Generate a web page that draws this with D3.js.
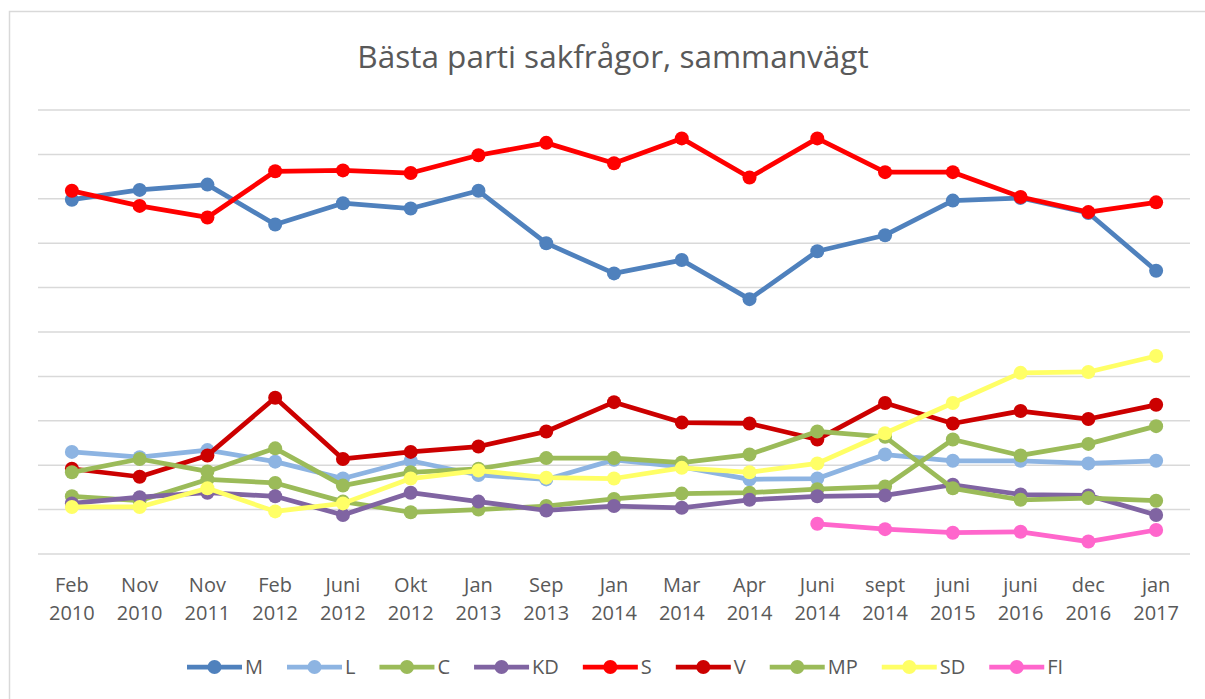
<!DOCTYPE html>
<html>
<head>
<meta charset="utf-8">
<script src="https://cdn.jsdelivr.net/npm/d3@7"></script>
<style>
  body { margin: 0; background: #fff; }
  svg { display: block; font-family: 'Open Sans', sans-serif; }
  .grid line { stroke: #d9d9d9; stroke-width: 1.5; }
  .xlabel, .legend text { fill: #595959; }
</style>
</head>
<body>
<svg id="chart" width="1205" height="699"></svg>
<script>
const categories = [
  ['Feb', '2010'], ['Nov', '2010'], ['Nov', '2011'], ['Feb', '2012'], ['Juni', '2012'],
  ['Okt', '2012'], ['Jan', '2013'], ['Sep', '2013'], ['Jan', '2014'], ['Mar', '2014'],
  ['Apr', '2014'], ['Juni', '2014'], ['sept', '2014'], ['juni', '2015'], ['juni', '2016'],
  ['dec', '2016'], ['jan', '2017']
]
const seriesNames = ['M', 'L', 'C', 'KD', 'S', 'V', 'MP', 'SD', 'FI']
const seriesColors = ['#4f81bd', '#8db4e2', '#9bbb59', '#8064a2', '#ff0000', '#cc0000', '#9bbb59', '#ffff66', '#ff66cc']

const valuesM = [39.9, 41.0, 41.6, 37.1, 39.5, 38.9, 40.9, 35.0, 31.6, 33.1, 28.7, 34.1, 35.9, 39.8, 40.1, 38.4, 31.9]
const valuesL = [11.5, 10.9, 11.7, 10.4, 8.5, 10.5, 8.9, 8.4, 10.6, 9.8, 8.4, 8.5, 11.2, 10.5, 10.5, 10.2, 10.5]
const valuesC = [6.5, 6.0, 8.4, 8.0, 5.9, 4.7, 5.0, 5.4, 6.2, 6.8, 6.9, 7.3, 7.6, 12.9, 11.1, 12.4, 14.4]
const valuesKD = [5.7, 6.4, 6.9, 6.5, 4.4, 6.9, 5.9, 4.9, 5.4, 5.2, 6.1, 6.5, 6.6, 7.8, 6.7, 6.6, 4.4]
const valuesS = [40.9, 39.2, 37.9, 43.1, 43.2, 42.9, 44.9, 46.3, 44.0, 46.8, 42.4, 46.8, 43.0, 43.0, 40.2, 38.5, 39.6]
const valuesV = [9.6, 8.7, 11.1, 17.6, 10.7, 11.5, 12.1, 13.8, 17.1, 14.8, 14.7, 12.9, 17.0, 14.7, 16.1, 15.2, 16.8]
const valuesMP = [9.2, 10.7, 9.3, 11.9, 7.7, 9.2, 9.6, 10.8, 10.8, 10.3, 11.2, 13.8, 13.2, 7.4, 6.1, 6.3, 6.0]
const valuesSD = [5.3, 5.3, 7.4, 4.8, 5.7, 8.5, 9.4, 8.6, 8.5, 9.7, 9.2, 10.2, 13.6, 17.0, 20.4, 20.5, 22.3]
const valuesFI = [null, null, null, null, null, null, null, null, null, null, null, 3.4, 2.8, 2.4, 2.5, 1.4, 2.7]
const yTicks = [0, 5, 10, 15, 20, 25, 30, 35, 40, 45, 50]

const allValues = [valuesM, valuesL, valuesC, valuesKD, valuesS, valuesV, valuesMP, valuesSD, valuesFI]
const series = seriesNames.map((name, i) => ({ name, color: seriesColors[i], values: allValues[i] }))

const svg = d3.select('#chart')
const margin = { top: 110, bottom: 145, left: 38, right: 15 }
const width = 1205 - margin.left - margin.right
const height = 699 - margin.top - margin.bottom

// ram runt diagrammet
svg.append('rect')
  .attr('x', 9.5).attr('y', 11.5)
  .attr('width', 1210).attr('height', 700)
  .attr('fill', 'none').attr('stroke', '#d9d9d9').attr('stroke-width', 1.5)

svg.append('text')
  .attr('x', 613).attr('y', 68)
  .attr('text-anchor', 'middle')
  .attr('fill', '#595959')
  .style('font-size', '31.5px')
  .text('Bästa parti sakfrågor, sammanvägt')

const g = svg.append('g').attr('transform', `translate(${margin.left}, ${margin.top})`)

const x = d3.scalePoint()
  .domain(d3.range(categories.length))
  .range([0, width])
  .padding(0.5)

const y = d3.scaleLinear()
  .domain([0, 50])
  .range([height, 0])

g.append('g').attr('class', 'grid')
  .selectAll('line')
  .data(yTicks)
  .enter()
  .append('line')
  .attr('x1', 0).attr('x2', width)
  .attr('y1', d => y(d)).attr('y2', d => y(d))

const labels = g.append('g').selectAll('text')
  .data(categories)
  .enter()
  .append('text')
  .attr('class', 'xlabel')
  .attr('text-anchor', 'middle')
  .attr('x', (d, i) => x(i))
  .attr('y', height + 38)
  .style('font-size', '20px')
labels.append('tspan').attr('x', (d, i) => x(i)).text(d => d[0])
labels.append('tspan').attr('x', (d, i) => x(i)).attr('dy', 28).text(d => d[1])

const line = d3.line()
  .defined(d => d !== null)
  .x((d, i) => x(i))
  .y(d => y(d))

series.forEach(s => {
  const sg = g.append('g').attr('class', 'series')
  sg.append('path')
    .attr('d', line(s.values))
    .attr('fill', 'none')
    .attr('stroke', s.color)
    .attr('stroke-width', 4.75)
    .attr('stroke-linejoin', 'round')
    .attr('stroke-linecap', 'round')
  sg.selectAll('circle')
    .data(s.values.map((v, i) => ({ v, i })).filter(d => d.v !== null))
    .enter()
    .append('circle')
    .attr('cx', d => x(d.i))
    .attr('cy', d => y(d.v))
    .attr('r', 7)
    .attr('fill', s.color)
})

// legend
const legend = svg.append('g').attr('class', 'legend').attr('transform', 'translate(187, 667)')
let lx = 0
series.forEach(s => {
  const item = legend.append('g').attr('transform', `translate(${lx}, 0)`)
  item.append('line')
    .attr('x1', 0).attr('x2', 55)
    .attr('stroke', s.color).attr('stroke-width', 4.75)
  item.append('circle').attr('cx', 27.5).attr('r', 7).attr('fill', s.color)
  const t = item.append('text')
    .attr('x', 58).attr('dy', '0.35em')
    .style('font-size', '20px')
    .text(s.name)
  lx += 58 + t.node().getComputedTextLength() + 24
})
</script>
</body>
</html>
